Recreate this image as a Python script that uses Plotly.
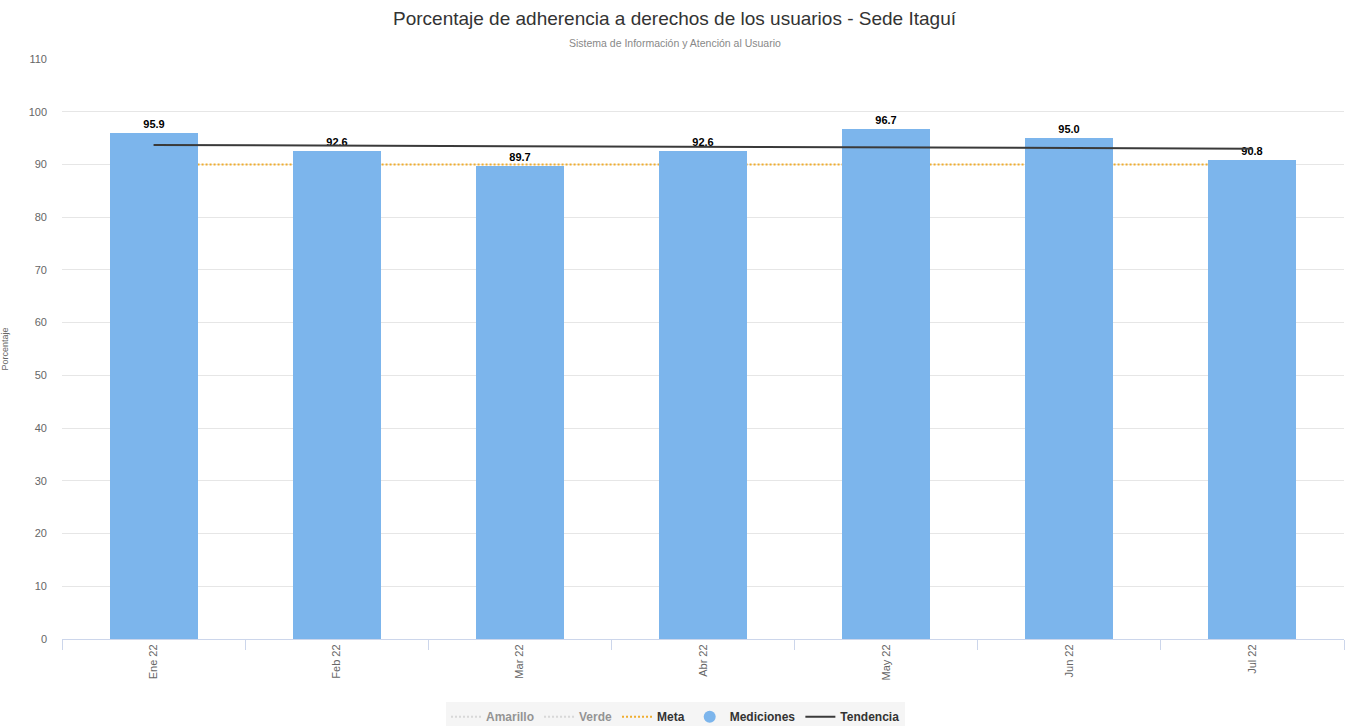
import plotly.graph_objects as go

# Datos del indicador
meses = ["Ene 22", "Feb 22", "Mar 22", "Abr 22", "May 22", "Jun 22", "Jul 22"]
mediciones = [95.9, 92.6, 89.7, 92.6, 96.7, 95.0, 90.8]
meta = [90, 90, 90, 90, 90, 90, 90]
tendencia_x = ["Ene 22", "Jul 22"]
tendencia_y = [93.7, 93.0]

FONT = "Liberation Sans, Arial, sans-serif"
BAR_COLOR = "#7cb5ec"
META_COLOR = "#f0ad2e"
TREND_COLOR = "#3a3a3a"

fig = go.Figure()

# Series ocultas (solo leyenda)
fig.add_trace(go.Scatter(x=meses, y=[95] * 7, name="<b>Amarillo</b>", mode="lines",
                         line=dict(color="#bbbbbb", dash="2px,2px", width=2),
                         visible="legendonly", xaxis="x", yaxis="y"))
fig.add_trace(go.Scatter(x=meses, y=[95] * 7, name="<b>Verde</b>", mode="lines",
                         line=dict(color="#bbbbbb", dash="2px,2px", width=2),
                         visible="legendonly", xaxis="x", yaxis="y"))

# Meta, dibujada detrás de las barras (eje base)
fig.add_trace(go.Scatter(x=meses, y=meta, name="<b>Meta</b>", mode="lines",
                         line=dict(color=META_COLOR, dash="2px,2px", width=2),
                         hoverinfo="skip", xaxis="x", yaxis="y"))

# Mediciones (barras en el eje superpuesto)
fig.add_trace(go.Bar(x=meses, y=mediciones, name="Mediciones", width=0.48,
                     marker=dict(color=BAR_COLOR, line=dict(width=0)),
                     texttemplate="<b>%{y:.1f}</b>", textposition="outside",
                     textfont=dict(family=FONT, size=11, color="#000000"),
                     cliponaxis=False, showlegend=False,
                     legendgroup="med", xaxis="x2", yaxis="y2"))
fig.add_trace(go.Scatter(x=[None], y=[None], name="<b>Mediciones</b>", mode="markers",
                         marker=dict(color=BAR_COLOR, size=12, symbol="circle"),
                         legendgroup="med", xaxis="x2", yaxis="y2"))

# Tendencia
fig.add_trace(go.Scatter(x=tendencia_x, y=tendencia_y, name="<b>Tendencia</b>", mode="lines",
                         line=dict(color=TREND_COLOR, width=2),
                         xaxis="x2", yaxis="y2"))

fig.update_layout(
    width=1351, height=726,
    paper_bgcolor="#ffffff", plot_bgcolor="#ffffff",
    margin=dict(l=62, r=7, t=59, b=87, autoexpand=False),
    font=dict(family=FONT, color="#666666"),
    bargap=0,
    xaxis=dict(type="category", categoryorder="array", categoryarray=meses,
               range=[-0.5, 6.5], automargin=False,
               showgrid=False, showline=True, linecolor="#ccd6eb", linewidth=1,
               ticks="outside", tickson="boundaries", ticklen=10, tickcolor="#ccd6eb",
               tickangle=-90, tickfont=dict(size=11, color="#666666")),
    yaxis=dict(range=[0, 110], dtick=10, showgrid=True, gridcolor="#e6e6e6",
               zeroline=False, showline=False, ticks="", automargin=False,
               ticklabelstandoff=14,
               tickfont=dict(size=11, color="#666666"),
               title=dict(text="Porcentaje", font=dict(size=9, color="#666666"),
                          standoff=18)),
    xaxis2=dict(type="category", categoryorder="array", categoryarray=meses,
                range=[-0.5, 6.5], overlaying="x", matches="x", visible=False),
    yaxis2=dict(range=[0, 110], overlaying="y", matches="y", visible=False),
    legend=dict(orientation="h", xref="container", x=0.5, xanchor="center",
                y=-0.134, yanchor="middle",
                bgcolor="#f5f5f5", font=dict(size=12, color="#333333", family=FONT),
                itemwidth=30, traceorder="normal"),
    annotations=[
        dict(text="Porcentaje de adherencia a derechos de los usuarios - Sede Itaguí",
             xref="paper", yref="paper", x=0.478, y=1, yshift=41, showarrow=False,
             font=dict(size=19, color="#333333", family=FONT), yanchor="middle"),
        dict(text="Sistema de Información y Atención al Usuario",
             xref="paper", yref="paper", x=0.478, y=1, yshift=16, showarrow=False,
             font=dict(size=10.5, color="#888888", family=FONT), yanchor="middle"),
    ],
)

fig.write_html("out.html")
